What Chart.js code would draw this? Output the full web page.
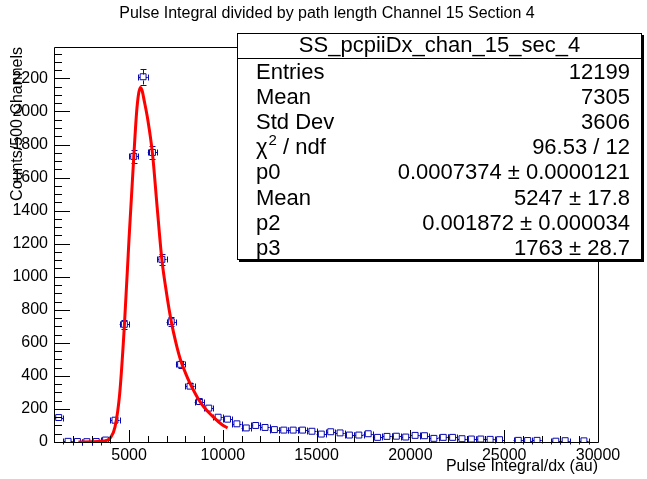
<!DOCTYPE html>
<html>
<head>
<meta charset="utf-8">
<script src="https://cdn.jsdelivr.net/npm/chart.js@4.4.1/dist/chart.umd.min.js"></script>
<style>
  html, body { margin: 0; padding: 0; background: #fff; }
  #wrap { width: 647px; height: 479px; position: relative; }
</style>
</head>
<body>
<div id="wrap"><canvas id="chart" width="647" height="479"></canvas></div>
<script>
// histogram bins (500 channels wide)
const binCenters = [1250, 1750, 2250, 2750, 3250, 3750, 4250, 4750, 5250, 5750,
  6250, 6750, 7250, 7750, 8250, 8750, 9250, 9750, 10250, 10750,
  11250, 11750, 12250, 12750, 13250, 13750, 14250, 14750, 15250, 15750,
  16250, 16750, 17250, 17750, 18250, 18750, 19250, 19750, 20250, 20750,
  21250, 21750, 22250, 22750, 23250, 23750, 24250, 24750, 25250, 25750,
  26250, 26750, 27250, 27750, 28250, 28750, 29250, 29750];
const counts = [148, 4, 3, 2, 3, 12, 132, 712, 1728, 2210,
  1752, 1105, 728, 470, 338, 245, 205, 150, 138, 110,
  85, 100, 88, 75, 72, 72, 72, 65, 48, 62,
  55, 42, 42, 50, 28, 34, 35, 30, 40, 38,
  22, 28, 28, 20, 18, 18, 16, 14, 0, 10,
  9, 10, 0, 5, 8, 0, 7, 0];
const countErrors = [12.2, 2, 1.7, 1.4, 1.7, 3.5, 11.5, 26.7, 41.6, 47,
  41.9, 33.2, 27, 21.7, 18.4, 15.7, 14.3, 12.2, 11.7, 10.5,
  9.2, 10, 9.4, 8.7, 8.5, 8.5, 8.5, 8.1, 6.9, 7.9,
  7.4, 6.5, 6.5, 7.1, 5.3, 5.8, 5.9, 5.5, 6.3, 6.2,
  4.7, 5.3, 5.3, 4.5, 4.2, 4.2, 4, 3.7, 0, 3.2,
  3, 3.2, 0, 2.2, 2.8, 0, 2.6, 0];
const binHalfWidth = 250;

// fit curve
const fitX = [2300, 3000, 3500, 3800, 4000, 4250, 4500, 4750, 5000, 5250,
  5400, 5500, 5600, 5700, 5800, 6000, 6250, 6500, 6750, 7000,
  7250, 7500, 7750, 8000, 8250, 8500, 8750, 9000, 9250, 9500,
  9750, 10000, 10250];
const fitY = [0, 1, 4, 10, 25, 90, 290, 700, 1230, 1720,
  1990, 2100, 2145, 2125, 2070, 1950, 1745, 1420, 1105, 900,
  730, 600, 495, 420, 355, 300, 250, 210, 178, 150,
  124, 102, 85];

const xTickValues = [5000, 10000, 15000, 20000, 25000, 30000];
const yTickValues = [0, 200, 400, 600, 800, 1000, 1200, 1400, 1600, 1800, 2000, 2200];

const chartTitle = "Pulse Integral divided by path length Channel 15 Section 4";
const statsTitle = "SS_pcpiiDx_chan_15_sec_4";
const statsLabels = ["Entries", "Mean", "Std Dev", "chi2", "p0", "Mean", "p2", "p3"];
const statsValues = ["12199", "7305", "3606", "96.53 / 12", "0.0007374 \u00b1 0.0000121",
  "5247 \u00b1 17.8", "0.001872 \u00b1 0.000034", "1763 \u00b1 28.7"];

const histColor = "#0808b0";
const fontFamily = "'Liberation Sans', Arial, Helvetica, sans-serif";

const shown = binCenters
  .map((c, i) => ({ x: c, y: counts[i], e: countErrors[i] }))
  .filter((p) => p.y > 0);

const px = (v) => Math.round(v) + 0.5;

const rootStyle = {
  id: "rootStyle",
  beforeDatasetsDraw(chart) {
    const { ctx, scales: { x, y } } = chart;
    const half = 3;
    const cap = 3;
    ctx.save();
    ctx.strokeStyle = histColor;
    ctx.lineWidth = 1;
    ctx.beginPath();
    shown.forEach((p) => {
      const cx = x.getPixelForValue(p.x);
      const cy = px(y.getPixelForValue(p.y));
      const xl = x.getPixelForValue(Math.max(p.x - binHalfWidth, 1000));
      const xr = x.getPixelForValue(p.x + binHalfWidth);
      const yt = y.getPixelForValue(p.y + p.e);
      const yb = y.getPixelForValue(Math.max(p.y - p.e, 0));
      // horizontal
      ctx.moveTo(xl, cy); ctx.lineTo(cx - half, cy);
      ctx.moveTo(cx + half, cy); ctx.lineTo(xr, cy);
      ctx.moveTo(px(xl), cy - cap); ctx.lineTo(px(xl), cy + cap);
      ctx.moveTo(px(xr), cy - cap); ctx.lineTo(px(xr), cy + cap);
      // vertical
      const vx = px(cx);
      if (yt < cy - half) {
        ctx.moveTo(vx, cy - half); ctx.lineTo(vx, yt);
        ctx.moveTo(vx - cap, px(yt)); ctx.lineTo(vx + cap, px(yt));
      }
      if (yb > cy + half) {
        ctx.moveTo(vx, cy + half); ctx.lineTo(vx, yb);
        ctx.moveTo(vx - cap, px(yb)); ctx.lineTo(vx + cap, px(yb));
      }
    });
    ctx.stroke();
    ctx.restore();
  },
  afterDatasetsDraw(chart) {
    const { ctx, chartArea: a, scales: { x, y } } = chart;
    ctx.save();
    ctx.strokeStyle = "#000";
    ctx.lineWidth = 1;
    ctx.beginPath();
    ctx.rect(px(a.left), px(a.top), Math.round(a.right - a.left), Math.round(a.bottom - a.top));
    // y ticks, inside the frame
    for (let v = 0; v <= y.max; v += 50) {
      const yy = px(y.getPixelForValue(v));
      const len = v % 200 === 0 ? 16 : 8;
      ctx.moveTo(a.left, yy); ctx.lineTo(a.left + len, yy);
    }
    // x ticks, inside the frame
    for (let v = 1000; v <= x.max; v += 1000) {
      const xx = px(x.getPixelForValue(v));
      const len = v % 5000 === 0 ? 12 : 6;
      ctx.moveTo(xx, a.bottom); ctx.lineTo(xx, a.bottom - len);
    }
    ctx.stroke();
    ctx.restore();
  },
  afterDraw(chart) {
    const { ctx } = chart;
    ctx.save();
    // main title, centred on the canvas like ROOT does
    ctx.fillStyle = "#000";
    ctx.textBaseline = "middle";
    ctx.textAlign = "center";
    ctx.font = "16px " + fontFamily;
    ctx.fillText(chartTitle, 327, 14);

    // stats box
    const L = 237, T = 33, R = 642, B = 260, sep = 58;
    ctx.fillStyle = "#000";
    ctx.fillRect(L + 2, B, R - L, 2);
    ctx.fillRect(R, T + 2, 2, B - T);
    ctx.fillStyle = "#fff";
    ctx.fillRect(L, T, R - L, B - T);
    ctx.strokeStyle = "#000";
    ctx.lineWidth = 1;
    ctx.strokeRect(L + 0.5, T + 0.5, R - L - 1, B - T - 1);
    ctx.beginPath();
    ctx.moveTo(L, sep + 0.5); ctx.lineTo(R, sep + 0.5);
    ctx.stroke();

    ctx.fillStyle = "#000";
    ctx.font = "22px " + fontFamily;
    ctx.fillText(statsTitle, (L + R) / 2, 46);

    statsLabels.forEach((lab, i) => {
      const yy = 73 + i * 25.1;
      ctx.font = "22px " + fontFamily;
      ctx.textAlign = "left";
      if (lab === "chi2") {
        ctx.fillText("\u03c7", 256, yy);
        const w = ctx.measureText("\u03c7").width;
        ctx.font = "15px " + fontFamily;
        ctx.fillText("2", 256 + w + 1, yy - 7);
        const w2 = ctx.measureText("2").width;
        ctx.font = "22px " + fontFamily;
        ctx.fillText(" / ndf", 256 + w + 1 + w2, yy);
      } else {
        ctx.fillText(lab, 256, yy);
      }
      ctx.textAlign = "right";
      ctx.fillText(statsValues[i], 630, yy);
    });
    ctx.restore();
  }
};

new Chart(document.getElementById("chart"), {
  data: {
    datasets: [
      {
        type: "line",
        data: fitX.map((v, i) => ({ x: v, y: fitY[i] })),
        borderColor: "#ff0000",
        borderWidth: 3,
        pointRadius: 0,
        cubicInterpolationMode: "monotone",
        fill: false,
      },
      {
        type: "scatter",
        data: shown.map((p) => ({ x: p.x, y: p.y })),
        pointStyle: "rect",
        pointRadius: 4.2,
        borderColor: histColor,
        backgroundColor: "rgba(0,0,0,0)",
        borderWidth: 1,
      },
    ],
  },
  options: {
    responsive: false,
    animation: false,
    devicePixelRatio: 1,
    layout: { padding: { left: 0, right: 49, top: 47, bottom: 0 } },
    plugins: {
      legend: { display: false },
      tooltip: { enabled: false },
      title: { display: false },
    },
    scales: {
      x: {
        type: "linear",
        min: 1000,
        max: 30000,
        grid: { display: false, drawTicks: false },
        border: { display: false },
        afterBuildTicks: (s) => { s.ticks = xTickValues.map((v) => ({ value: v })); },
        afterFit: (s) => { s.height = 37; },
        ticks: {
          color: "#000",
          padding: 4,
          maxRotation: 0,
          autoSkip: false,
          font: { family: fontFamily, size: 16 },
          callback: (v) => String(v),
        },
        title: {
          display: true,
          text: "Pulse Integral/dx (au)",
          align: "end",
          color: "#000",
          font: { family: fontFamily, size: 16 },
          padding: { top: 0, bottom: 3 },
        },
      },
      y: {
        min: 0,
        max: 2390,
        grid: { display: false, drawTicks: false },
        border: { display: false },
        afterBuildTicks: (s) => { s.ticks = yTickValues.map((v) => ({ value: v })); },
        afterFit: (s) => { s.width = 54; },
        ticks: {
          color: "#000",
          padding: 6,
          autoSkip: false,
          font: { family: fontFamily, size: 16 },
          callback: (v) => String(v),
        },
        title: {
          display: true,
          text: "Counts/500 Channels",
          align: "end",
          color: "#000",
          font: { family: fontFamily, size: 16 },
          padding: { top: 8, bottom: 0 },
        },
      },
    },
  },
  plugins: [rootStyle],
});
</script>
</body>
</html>
